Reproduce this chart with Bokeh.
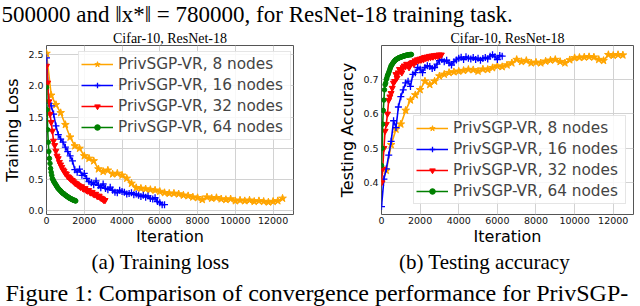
from bokeh.plotting import figure
from bokeh.layouts import column, row
from bokeh.models import Range1d, FixedTicker, Label, Legend, LegendItem
from bokeh.embed import file_html
from bokeh.resources import INLINE

# ---------------- data ----------------
iters_8 = list(range(0, 12501, 250))
iters_16 = list(range(0, 6251, 125))
iters_32 = list(range(0, 3101, 62))
iters_64 = list(range(0, 1551, 31))

loss_8 = [2.52, 1.85, 1.70, 1.57, 1.38, 1.18, 1.04, 1.00, 0.88, 0.84,
          0.80, 0.67, 0.63, 0.65, 0.59, 0.60, 0.57, 0.52, 0.44, 0.37,
          0.36, 0.35, 0.34, 0.33, 0.31, 0.29, 0.28, 0.28, 0.27, 0.25,
          0.24, 0.22, 0.21, 0.18, 0.22, 0.20, 0.21, 0.19, 0.18, 0.19,
          0.16, 0.17, 0.16, 0.17, 0.15, 0.16, 0.15, 0.14, 0.15, 0.16,
          0.20]
loss_16 = [2.45, 1.72, 1.68, 1.55, 1.36, 1.22, 1.15, 1.10, 1.02, 0.95,
           0.88, 0.80, 0.66, 0.62, 0.67, 0.57, 0.60, 0.52, 0.47, 0.45,
           0.42, 0.48, 0.41, 0.37, 0.43, 0.36, 0.34, 0.38, 0.33, 0.30,
           0.29, 0.33, 0.31, 0.30, 0.27, 0.28, 0.29, 0.26, 0.27, 0.25,
           0.23, 0.25, 0.22, 0.24, 0.20, 0.19, 0.21, 0.15, 0.13, 0.10,
           0.10]
loss_32 = [2.32, 2.05, 1.75, 1.55, 1.42, 1.28, 1.12, 1.05, 0.96, 0.88,
           0.84, 0.78, 0.74, 0.70, 0.66, 0.64, 0.60, 0.59, 0.55, 0.54,
           0.52, 0.50, 0.49, 0.47, 0.45, 0.44, 0.43, 0.41, 0.40, 0.38,
           0.39, 0.36, 0.35, 0.36, 0.33, 0.32, 0.33, 0.30, 0.29, 0.30,
           0.27, 0.26, 0.27, 0.24, 0.23, 0.24, 0.21, 0.20, 0.19, 0.17,
           0.17]
loss_64 = [1.98, 1.62, 1.30, 1.10, 0.95, 0.84, 0.76, 0.68, 0.62, 0.57,
           0.52, 0.50, 0.48, 0.46, 0.45, 0.43, 0.42, 0.40, 0.39, 0.37,
           0.36, 0.35, 0.34, 0.33, 0.32, 0.31, 0.30, 0.29, 0.28, 0.28,
           0.27, 0.26, 0.25, 0.25, 0.24, 0.23, 0.23, 0.22, 0.21, 0.21,
           0.20, 0.20, 0.19, 0.19, 0.18, 0.18, 0.17, 0.17, 0.17, 0.16,
           0.16]

acc_8 = [0.40, 0.435, 0.51, 0.555, 0.57, 0.61, 0.64, 0.655, 0.67, 0.695,
         0.685, 0.695, 0.71, 0.715, 0.72, 0.722, 0.724, 0.726, 0.729, 0.728,
         0.724, 0.73, 0.729, 0.734, 0.739, 0.737, 0.742, 0.748, 0.758, 0.752,
         0.755, 0.748, 0.750, 0.748, 0.753, 0.756, 0.758, 0.752, 0.748, 0.757,
         0.763, 0.764, 0.765, 0.766, 0.765, 0.758, 0.755, 0.772, 0.770, 0.772,
         0.771]
acc_16 = [0.33, 0.41, 0.44, 0.48, 0.52, 0.58, 0.56, 0.62, 0.65, 0.67,
          0.69, 0.695, 0.68, 0.715, 0.72, 0.735, 0.73, 0.72, 0.735, 0.74,
          0.738, 0.732, 0.735, 0.745, 0.755, 0.758, 0.752, 0.756, 0.748, 0.742,
          0.752, 0.757, 0.762, 0.765, 0.758, 0.766, 0.762, 0.760, 0.764, 0.758,
          0.762, 0.756, 0.761, 0.764, 0.760, 0.768, 0.772, 0.766, 0.758, 0.770,
          0.768]
acc_32 = [0.40, 0.44, 0.50, 0.55, 0.57, 0.60, 0.64, 0.65, 0.66, 0.675,
          0.69, 0.695, 0.715, 0.705, 0.72, 0.73, 0.725, 0.72, 0.735, 0.74,
          0.738, 0.745, 0.742, 0.735, 0.745, 0.748, 0.75, 0.745, 0.755, 0.752,
          0.758, 0.755, 0.76, 0.757, 0.762, 0.758, 0.765, 0.762, 0.766, 0.763,
          0.768, 0.765, 0.769, 0.766, 0.77, 0.768, 0.771, 0.768, 0.772, 0.771,
          0.772]
acc_64 = [0.45, 0.50, 0.57, 0.61, 0.64, 0.67, 0.685, 0.69, 0.70, 0.705,
          0.712, 0.715, 0.72, 0.725, 0.73, 0.735, 0.74, 0.742, 0.745, 0.748,
          0.75, 0.752, 0.755, 0.756, 0.758, 0.759, 0.76, 0.761, 0.762, 0.763,
          0.764, 0.764, 0.765, 0.766, 0.766, 0.767, 0.768, 0.768, 0.769, 0.769,
          0.77, 0.77, 0.771, 0.771, 0.771, 0.772, 0.772, 0.772, 0.773, 0.772,
          0.773]

series_labels = ["PrivSGP-VR, 8 nodes", "PrivSGP-VR, 16 nodes",
                 "PrivSGP-VR, 32 nodes", "PrivSGP-VR, 64 nodes"]
x_ticks = [0, 2000, 4000, 6000, 8000, 10000, 12000]
loss_ticks = [0.0, 0.5, 1.0, 1.5, 2.0, 2.5]
loss_tick_labels = ["0.0", "0.5", "1.0", "1.5", "2.0", "2.5"]
acc_ticks = [0.4, 0.5, 0.6, 0.7]
acc_tick_labels = ["0.4", "0.5", "0.6", "0.7"]

top_text = "500000 and \u2016x*\u2016 = 780000, for ResNet-18 training task."
caption_a = "(a) Training loss"
caption_b = "(b) Testing accuracy"
fig_caption = "Figure 1:  Comparison of convergence performance for PrivSGP-"

colors = ["#FFA500", "#0000FF", "#FF0000", "#008000"]
markers = ["star", "cross", "inverted_triangle", "circle"]
msizes = [8, 7, 6, 4.5]

SANS = "DejaVu Sans"
SERIF = "Liberation Serif"
TOP_H = 28
BOT_H = 58
PH = 306 - TOP_H - BOT_H  # plot figure height (page y 28 .. 248)


def make_panel(xs_list, ys_list, x_end, y_range, yticks, ytick_labels,
               min_left, min_right, ylabel, legend_loc):
    p = figure(width=320, height=PH, output_backend="svg", toolbar_location=None,
               x_range=Range1d(0, x_end), y_range=Range1d(*y_range),
               min_border_left=min_left, min_border_right=min_right,
               min_border_top=16, min_border_bottom=34,
               title="Cifar-10, ResNet-18")
    p.title.align = "center"
    p.title.text_font = SERIF
    p.title.text_font_size = "14px"
    p.title.text_font_style = "normal"
    p.title.text_color = "black"
    p.title.standoff = 0
    p.background_fill_color = "white"
    p.border_fill_color = "white"
    p.outline_line_color = "#555555"
    p.outline_line_width = 1
    p.grid.grid_line_color = "#d2d2d2"
    p.grid.grid_line_width = 1
    p.xaxis.ticker = FixedTicker(ticks=x_ticks)
    p.yaxis.ticker = FixedTicker(ticks=yticks)
    p.yaxis.major_label_overrides = {t: l for t, l in zip(yticks, ytick_labels)}
    for ax in (p.xaxis[0], p.yaxis[0]):
        ax.axis_line_color = None
        ax.major_tick_line_color = None
        ax.minor_tick_line_color = None
        ax.major_tick_out = 0
        ax.major_tick_in = 0
        ax.major_label_text_font = SANS
        ax.major_label_text_font_size = "9.5px"
        ax.major_label_text_color = "#111111"
        ax.axis_label_text_font = SANS
        ax.axis_label_text_font_size = "16px"
        ax.axis_label_text_font_style = "normal"
        ax.axis_label_text_color = "black"
    p.xaxis.major_label_standoff = 2
    p.yaxis.major_label_standoff = 3
    p.xaxis.axis_label = "Iteration"
    p.xaxis.axis_label_standoff = 0
    p.yaxis.axis_label = ylabel
    p.yaxis.axis_label_standoff = 3

    items = []
    for xs, ys, c, m, s, lab in zip(xs_list, ys_list, colors, markers, msizes, series_labels):
        lr = p.line(xs, ys, line_color=c, line_width=1.6)
        if m == "cross":
            sr = p.scatter(xs, ys, marker=m, size=s, line_color=c, line_width=1.3)
        else:
            sr = p.scatter(xs, ys, marker=m, size=s, line_color=c, fill_color=c, line_width=1)
        items.append(LegendItem(label=lab, renderers=[lr, sr]))

    leg = Legend(items=items, location=legend_loc)
    leg.label_text_font = SANS
    leg.label_text_font_size = "15.3px"
    leg.glyph_width = 32
    leg.glyph_height = 14
    leg.label_height = 20
    leg.label_width = 170
    leg.label_standoff = 5
    leg.padding = 2
    leg.spacing = 1
    leg.margin = 0
    leg.border_line_color = "#cccccc"
    leg.border_line_width = 1
    leg.background_fill_color = "white"
    leg.background_fill_alpha = 0.85
    p.add_layout(leg)
    return p


left = make_panel([iters_8, iters_16, iters_32, iters_64],
                  [loss_8, loss_16, loss_32, loss_64],
                  13080, (-0.058, 2.648), loss_ticks, loss_tick_labels,
                  42, 27, "Training Loss", (32, 74))
right = make_panel([iters_8, iters_16, iters_32, iters_64],
                   [acc_8, acc_16, acc_32, acc_64],
                   13050, (0.307, 0.799), acc_ticks, acc_tick_labels,
                   61, 7, "Testing Accuracy", (32, 10))


def text_strip(h):
    f = figure(width=640, height=h, output_backend="svg", toolbar_location=None,
               x_axis_location=None, y_axis_location=None, min_border=0,
               x_range=Range1d(0, 640), y_range=Range1d(0, h))
    f.outline_line_color = None
    f.grid.visible = False
    return f


top = text_strip(TOP_H)
top.add_layout(Label(x=1, y=14.5, x_units="screen", y_units="screen",
                     text=top_text, text_align="left", text_baseline="alphabetic",
                     text_font=SERIF, text_font_size="23px", text_color="black"))

bottom = text_strip(BOT_H)
bottom.add_layout(Label(x=160, y=45, x_units="screen", y_units="screen",
                        text=caption_a, text_align="center",
                        text_baseline="alphabetic", text_font=SERIF,
                        text_font_size="21px", text_color="black"))
bottom.add_layout(Label(x=484, y=45, x_units="screen", y_units="screen",
                        text=caption_b, text_align="center",
                        text_baseline="alphabetic", text_font=SERIF,
                        text_font_size="21px", text_color="black"))
bottom.add_layout(Label(x=5, y=14, x_units="screen", y_units="screen",
                        text=fig_caption, text_align="left",
                        text_baseline="alphabetic", text_font=SERIF,
                        text_font_size="24px", text_color="black"))

layout = column(top, row(left, right), bottom)
open("out.html", "w").write(file_html(layout, INLINE))
